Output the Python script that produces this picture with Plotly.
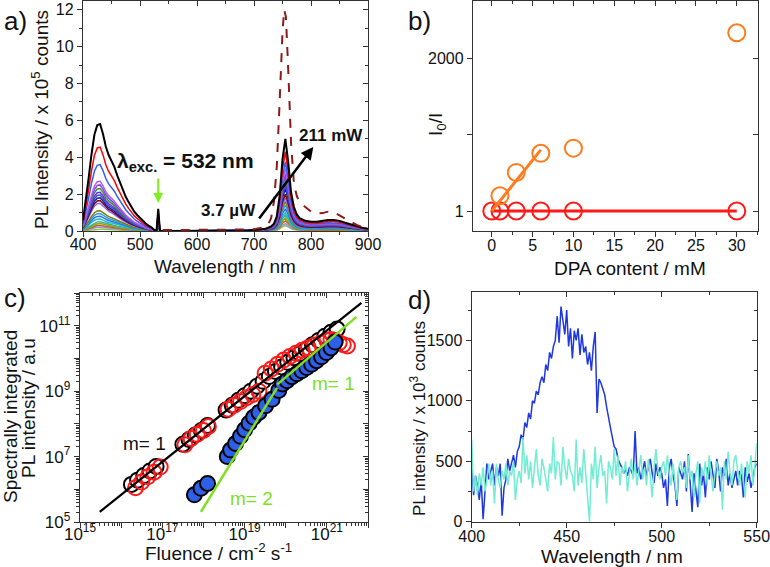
import plotly.graph_objects as go

W, H = 770, 567
FONT = "Liberation Sans, Arial, sans-serif"
AX = "#333333"

def px(x):
    return x / W

def py(y):
    return 1 - y / H

# ---------------- Panel a data ----------------
wl_a = [400, 405, 410, 415, 420, 425, 430, 435, 440, 445, 450, 455, 460, 465, 470, 475, 480, 485, 490, 495,
        500, 505, 510, 515, 520, 525,
        529, 532, 535,
        540, 560, 580, 600, 620, 640, 660, 680,
        690, 700, 710, 720, 725, 730, 735, 740, 745, 750, 755, 760, 765, 770, 775, 780, 790, 800, 810, 820,
        830, 840, 850, 860, 870, 880, 890, 900]
blue_band = [0.10, 0.28, 0.50, 0.72, 0.90, 0.99, 1.00, 0.91, 0.79, 0.71, 0.66, 0.60, 0.52, 0.45, 0.38, 0.32, 0.27, 0.22, 0.18, 0.15,
             0.12, 0.09, 0.07, 0.05, 0.035, 0.01,
             0, 0, 0,
             0, 0, 0, 0, 0, 0, 0, 0,
             0, 0, 0, 0, 0, 0, 0, 0, 0, 0, 0, 0, 0, 0, 0, 0, 0, 0, 0, 0,
             0, 0, 0, 0, 0, 0, 0, 0]
laser_line = [0] * 26 + [0, 1, 0] + [0] * 36
red_band = [0] * 26 + [0, 0, 0] + [0, 0, 0, 0, 0, 0, 0, 0.002] + \
           [0.005, 0.01, 0.015, 0.025, 0.035, 0.05, 0.08, 0.16, 0.38, 0.78, 1.00, 0.75, 0.42, 0.26, 0.18, 0.14, 0.11, 0.10,
            0.10, 0.11, 0.12, 0.12, 0.11, 0.09, 0.07, 0.05, 0.035, 0.025]

colors_a = ['#000000', '#ff0000', '#2f5cff', '#b35cff', '#8a3fe6', '#2f9a2f', '#6a2fd0', '#3a48e0', '#15208f',
            '#800000', '#8e6bff', '#7f7f00', '#2ea0e0', '#3070f0', '#1fc0c0', '#3fb09a', '#a0a000', '#c06020',
            '#9090ff', '#8cc63f']
blue_peak = [5.8, 4.55, 3.6, 2.7, 2.5, 2.3, 2.1, 1.95, 1.8, 1.65, 1.5, 1.1, 0.95, 0.8, 0.65, 0.5, 0.4, 0.3, 0.2, 0.1]
red_peak = [5.0, 4.3, 3.75, 3.4, 3.1, 2.9, 2.7, 2.5, 2.3, 2.0, 1.8, 1.6, 1.4, 1.2, 1.0, 0.85, 0.7, 0.55, 0.4, 0.3]
laser_peak = [1.2, 1.1, 1.0, 0.95, 0.9, 0.85, 0.8, 0.75, 0.7, 0.65, 0.6, 0.5, 0.45, 0.4, 0.35, 0.3, 0.25, 0.2, 0.15, 0.1]

ref_wl = [540, 600, 650, 690, 700, 710, 720, 725, 730, 735, 740, 745, 750, 753, 756, 760, 765, 770, 775, 780, 785,
          790, 800, 810, 820, 830, 840, 850, 860, 870, 880, 890, 900]
ref_int = [0.05, 0.05, 0.06, 0.08, 0.1, 0.14, 0.22, 0.35, 0.7, 1.6, 3.5, 7.0, 10.8, 12.0, 11.6, 8.8, 4.8, 2.6, 1.9,
           1.55, 1.4, 1.3, 1.05, 0.95, 0.97, 1.05, 1.02, 0.85, 0.65, 0.48, 0.33, 0.22, 0.15]

# ---------------- Panel b data ----------------
dpa_orange = [1, 3, 6, 10, 30]
ratio_orange = [2.14, 6.84, 17.8, 22.9, 7170]
dpa_red = [0, 1, 3, 6, 10, 30]
ratio_red = [1, 1, 1, 1, 1, 1]
fit_orange_x = [0, 6]
fit_orange_y = [1, 21]
fit_red_x = [0, 30]
fit_red_y = [1, 1]

# ---------------- Panel c data (log10 values) ----------------
blk_logF = [16.25, 16.40, 16.55, 16.70, 16.85, 17.50, 17.65, 17.80, 17.95, 18.10, 18.55, 18.70, 18.85, 19.00, 19.15,
            19.30, 19.45, 19.60, 19.75, 19.90, 20.05, 20.20, 20.35, 20.50, 20.65, 20.80, 20.95, 21.10, 21.25]
blk_logI = [6.15, 6.28, 6.42, 6.56, 6.70, 7.38, 7.52, 7.66, 7.80, 7.95, 8.42, 8.57, 8.72, 8.86, 9.00,
            9.15, 9.30, 9.45, 9.60, 9.74, 9.88, 10.02, 10.15, 10.28, 10.42, 10.55, 10.68, 10.80, 10.90]
red_logF = [16.35, 16.50, 16.65, 16.80, 16.95, 17.55, 17.70, 17.85, 18.00, 18.12, 18.60, 18.75, 18.90, 19.05, 19.20,
            19.35, 19.50, 19.65, 19.80, 19.95, 20.10, 20.25, 20.40, 20.55, 20.70, 20.85, 21.00, 21.10, 21.20, 21.30,
            21.40, 21.50]
red_logI = [6.05, 6.22, 6.38, 6.52, 6.68, 7.36, 7.55, 7.68, 7.80, 7.92, 8.45, 8.57, 8.68, 8.80, 8.90,
            9.00, 9.55, 9.68, 9.82, 9.95, 10.06, 10.16, 10.25, 10.33, 10.40, 10.47, 10.55, 10.58, 10.55, 10.48,
            10.42, 10.38]
blu_logF = [17.78, 17.94, 18.10, 18.58, 18.66, 18.78, 18.90, 19.00, 19.11, 19.22, 19.35, 19.51, 19.67, 19.83, 19.92,
            20.03, 20.15, 20.27, 20.39, 20.51, 20.63, 20.75, 20.87, 20.99, 21.10, 21.20]
blu_logI = [5.83, 6.03, 6.18, 7.00, 7.20, 7.40, 7.62, 7.82, 8.02, 8.20, 8.35, 8.55, 8.75, 9.02, 9.22,
            9.32, 9.44, 9.53, 9.62, 9.72, 9.82, 9.93, 10.05, 10.18, 10.32, 10.50]
fit1_logF = [15.48, 21.84]
fit1_logI = [5.31, 11.70]
fit2_logF = [17.94, 19.79]
fit2_logI = [5.31, 9.10]
fit3_logF = [19.79, 21.72]
fit3_logI = [9.20, 11.27]

# ---------------- Panel d data ----------------
wl_d = list(range(400, 551))
pl_sample = [480, 220, 380, 300, 180, 350, 20, 300, 480, 350,
             420, 480, 300, 450, 380, 480, 50, 280, 350, 520,
             420, 480, 550, 450, 580, 620, 720, 680, 820, 780,
             900, 850, 1000, 980, 1080, 1050, 1150, 1200, 1150, 1300,
             1250, 1400, 1350, 1450, 1500, 1700, 1480, 1780, 1650, 1550,
             1750, 1450, 1600, 1350, 1580, 1500, 1600, 1380, 1550, 1400,
             1450, 1300, 1400, 1250, 1450, 1570, 900, 1180, 1150, 1100,
             1050, 950, 850, 780, 700, 620, 600, 520, 480, 450,
             400, 430, 380, 450, 420, 380, 750, 400, 450, 350,
             420, 500, 380, 450, 520, 400, 320, 480, 380, 450,
             400, 280, 350, 130, 450, 520, 380, 300, 130, 450,
             400, 350, 500, 250, 560, 300, 80, 400, 250, 120,
             480, 300, 400, 200, 450, 350, 500, 380, 280, 520,
             420, 250, 450, 380, 520, 300, 400, 280, 350, 420,
             300, 420, 380, 200, 450, 330, 400, 280, 350, 450,
             480]
pl_blank = [680, 250, 380, 220, 400, 300, 450, 250, 350, 480,
            300, 420, 150, 480, 350, 280, 420, 350, 480, 300,
            420, 380, 500, 180, 350, 420, 320, 700, 400, 550,
            350, 500, 280, 450, 600, 380, 300, 520, 450, 350,
            250, 480, 400, 700, 350, 500, 480, 300, 620, 450,
            350, 520, 420, 380, 250, 680, 300, 450, 320, 600,
            400, 150, 0, 480, 350, 620, 280, 450, 550, 380,
            420, 150, 500, 450, 350, 600, 380, 550, 300, 450,
            400, 500, 250, 400, 520, 350, 480, 300, 420, 550,
            350, 450, 300, 520, 380, 200, 450, 600, 420, 350,
            450, 500, 380, 550, 400, 300, 480, 350, 180, 450,
            500, 400, 450, 280, 550, 350, 420, 200, 400, 500,
            150, 450, 380, 500, 300, 550, 420, 250, 400, 500,
            380, 450, 100, 500, 350, 580, 400, 300, 500, 550,
            420, 300, 480, 350, 200, 500, 400, 550, 300, 450,
            650]

fig = go.Figure()

# Panel a traces (lowest first)
for i in reversed(range(len(colors_a))):
    yv = [blue_peak[i] * b + red_peak[i] * r + laser_peak[i] * s
          for b, r, s in zip(blue_band, red_band, laser_line)]
    fig.add_trace(go.Scatter(x=wl_a, y=yv, mode='lines', xaxis='x', yaxis='y',
                             line=dict(color=colors_a[i], width=2.0 if i == 0 else 1.5),
                             showlegend=False, hoverinfo='skip'))
fig.add_trace(go.Scatter(x=ref_wl, y=ref_int, mode='lines', xaxis='x', yaxis='y',
                         line=dict(color='#8b1a1a', width=2, dash='dash'), showlegend=False))

# Panel b traces
fig.add_trace(go.Scatter(x=fit_red_x, y=fit_red_y, mode='lines', xaxis='x2', yaxis='y2',
                         line=dict(color='#ff1a1a', width=3), showlegend=False))
fig.add_trace(go.Scatter(x=dpa_red, y=ratio_red, mode='markers', xaxis='x2', yaxis='y2',
                         marker=dict(symbol='circle-open', size=17, color='#ff1a1a', line=dict(width=2)),
                         showlegend=False))
fig.add_trace(go.Scatter(x=dpa_orange, y=ratio_orange, mode='markers', xaxis='x2', yaxis='y2',
                         marker=dict(symbol='circle-open', size=17, color='#ff7b1c', line=dict(width=2)),
                         showlegend=False))
fig.add_trace(go.Scatter(x=fit_orange_x, y=fit_orange_y, mode='lines', xaxis='x2', yaxis='y2',
                         line=dict(color='#ff7b1c', width=3), showlegend=False))

# Panel c traces
def p10(v):
    return [10.0 ** a for a in v]

fig.add_trace(go.Scatter(x=p10(blk_logF), y=p10(blk_logI), mode='markers', xaxis='x3', yaxis='y3',
                         marker=dict(symbol='circle', size=15, color='white', line=dict(color='black', width=2)),
                         showlegend=False))
fig.add_trace(go.Scatter(x=p10(red_logF), y=p10(red_logI), mode='markers', xaxis='x3', yaxis='y3',
                         marker=dict(symbol='circle-open', size=15, color='#ff1a1a', line=dict(width=2)),
                         showlegend=False))
fig.add_trace(go.Scatter(x=p10(blu_logF), y=p10(blu_logI), mode='markers', xaxis='x3', yaxis='y3',
                         marker=dict(symbol='circle', size=15, color='#2e5fe8', line=dict(color='black', width=2)),
                         showlegend=False))
fig.add_trace(go.Scatter(x=p10(fit1_logF), y=p10(fit1_logI), mode='lines', xaxis='x3', yaxis='y3',
                         line=dict(color='black', width=2.2), showlegend=False))
fig.add_trace(go.Scatter(x=p10(fit2_logF), y=p10(fit2_logI), mode='lines', xaxis='x3', yaxis='y3',
                         line=dict(color='#7ee021', width=2.5), showlegend=False))
fig.add_trace(go.Scatter(x=p10(fit3_logF), y=p10(fit3_logI), mode='lines', xaxis='x3', yaxis='y3',
                         line=dict(color='#7ee021', width=2.5), showlegend=False))

# Panel d traces
fig.add_trace(go.Scatter(x=wl_d, y=pl_sample, mode='lines', xaxis='x4', yaxis='y4',
                         line=dict(color='#2038e0', width=1.5), showlegend=False))
fig.add_trace(go.Scatter(x=wl_d, y=pl_blank, mode='lines', xaxis='x4', yaxis='y4',
                         line=dict(color='#72ecd2', width=1.5), showlegend=False))

# dummy traces for mirror axes
for k in (5, 6, 7, 8):
    fig.add_trace(go.Scatter(x=[None], y=[None], xaxis='x%d' % k, yaxis='y%d' % k,
                             showlegend=False, hoverinfo='skip'))

TF = dict(family=FONT, size=16, color='#111111')


def main_axis(domain, anchor, rng, typ='linear', minor=None, **kw):
    d = dict(domain=domain, anchor=anchor, range=rng, type=typ, showline=True, linecolor=AX, linewidth=1.4,
             mirror=True, ticks='outside', ticklen=5, tickwidth=1.3, tickcolor=AX, showgrid=False,
             zeroline=False, tickfont=TF, automargin=False, ticklabeloverflow='allow')
    if minor is not None:
        m = dict(ticks='outside', ticklen=3, tickwidth=1, tickcolor=AX, showgrid=False)
        m.update(minor)
        d['minor'] = m
    d.update(kw)
    return d


def over_axis(overlay, anchor, side, rng, typ='linear', minor=None, **kw):
    d = dict(overlaying=overlay, anchor=anchor, side=side, range=rng, type=typ, showline=False,
             ticks='inside', ticklen=5, tickwidth=1.3, tickcolor=AX, showticklabels=False, showgrid=False,
             zeroline=False, automargin=False)
    if minor is not None:
        m = dict(ticks='inside', ticklen=3, tickwidth=1, tickcolor=AX, showgrid=False)
        m.update(minor)
        d['minor'] = m
    d.update(kw)
    return d


dom_a_x = [px(83), px(368)]
dom_a_y = [py(231), py(0.5)]
dom_b_x = [px(473), px(758)]
dom_b_y = [py(231), py(0.5)]
dom_c_x = [px(80), px(368)]
dom_c_y = [py(522), py(293)]
dom_d_x = [px(471.7), px(756.7)]
dom_d_y = [py(521.7), py(292)]

# log ticks
dec_x = [10.0 ** k for k in range(15, 23)]
lab_x = ['10<sup>%d</sup>' % k if k % 2 == 1 else ' ' for k in range(15, 23)]
dec_y = [10.0 ** k for k in range(5, 13)]
lab_y = ['10<sup>%d</sup>' % k if k % 2 == 1 else ' ' for k in range(5, 13)]
minor_x = [m * 10.0 ** k for k in range(15, 22) for m in range(2, 10)]
minor_y = [m * 10.0 ** k for k in range(5, 12) for m in range(2, 10)]

b_y_rng = [-0.4315, 4.552]
b_ticks = [1, 44.7, 2000]
b_text = ['1', ' ', '2000']

d_x_ticks = [400, 450, 500, 550]

layout = dict(
    template='none',
    width=W, height=H, margin=dict(l=0, r=0, t=0, b=0, pad=0, autoexpand=False),
    paper_bgcolor='white', plot_bgcolor='white', showlegend=False,
    font=dict(family=FONT, color='#111111'),
    xaxis=main_axis(dom_a_x, 'y', [400, 900], dtick=100, minor=dict(dtick=50), ticklabelstandoff=-6),
    yaxis=main_axis(dom_a_y, 'x', [0, 12.5], dtick=2, minor=dict(dtick=1)),
    xaxis2=main_axis(dom_b_x, 'y2', [-2.3, 32.6], dtick=5, minor=dict(dtick=2.5), ticklabelstandoff=-5),
    yaxis2=main_axis(dom_b_y, 'x2', b_y_rng, typ='log', tickmode='array', tickvals=b_ticks, ticktext=b_text),
    xaxis3=main_axis(dom_c_x, 'y3', [15, 22], typ='log', tickmode='array', tickvals=dec_x, ticktext=lab_x,
                     minor=dict(tickmode='array', tickvals=minor_x), ticklabelstandoff=-9,
                     tickfont=dict(family=FONT, size=17, color='#111')),
    yaxis3=main_axis(dom_c_y, 'x3', [5, 12], typ='log', tickmode='array', tickvals=dec_y, ticktext=lab_y,
                     minor=dict(tickmode='array', tickvals=minor_y), tickfont=dict(family=FONT, size=17, color='#111')),
    xaxis4=main_axis(dom_d_x, 'y4', [400, 550.01], tickmode='array', tickvals=d_x_ticks,
                     ticktext=[str(v) for v in d_x_ticks],
                     minor=dict(dtick=25, tick0=400), ticklabelstandoff=-5),
    yaxis4=main_axis(dom_d_y, 'x4', [0, 1900], dtick=500, minor=dict(dtick=250)),
    xaxis5=over_axis('x', 'y5', 'top', [400, 900], dtick=100, minor=dict(dtick=50)),
    yaxis5=over_axis('y', 'x5', 'right', [0, 12.5], dtick=2, minor=dict(dtick=1)),
    xaxis6=over_axis('x2', 'y6', 'top', [-2.3, 32.6], dtick=5, minor=dict(dtick=2.5)),
    yaxis6=over_axis('y2', 'x6', 'right', b_y_rng, typ='log', tickmode='array', tickvals=b_ticks),
    xaxis7=over_axis('x3', 'y7', 'top', [15, 22], typ='log', tickmode='array', tickvals=dec_x,
                     minor=dict(tickmode='array', tickvals=minor_x)),
    yaxis7=over_axis('y3', 'x7', 'right', [5, 12], typ='log', tickmode='array', tickvals=dec_y,
                     minor=dict(tickmode='array', tickvals=minor_y)),
    xaxis8=over_axis('x4', 'y8', 'top', [400, 550.01], dtick=50, minor=dict(dtick=25)),
    yaxis8=over_axis('y4', 'x8', 'right', [0, 1900], dtick=500, minor=dict(dtick=250)),
)
fig.update_layout(**layout)

ann = []


def txt(text, x, y, size=19, angle=0, xanchor='center', yanchor='middle', color='#111111'):
    ann.append(dict(text=text, x=px(x), y=py(y), xref='paper', yref='paper', showarrow=False,
                    textangle=angle, xanchor=xanchor, yanchor=yanchor,
                    font=dict(family=FONT, size=size, color=color)))


# panel labels
txt('a)', 2, 21, size=26, xanchor='left')
txt('b)', 406, 21, size=26, xanchor='left')
txt('c)', 2, 298, size=26, xanchor='left')
txt('d)', 406, 300, size=26, xanchor='left')

# axis titles
txt('Wavelength / nm', 225, 266)
txt('PL Intensity / x 10<sup>5</sup> counts', 40, 120, angle=-90)
txt('DPA content / mM', 630, 269)
txt('I<sub>0</sub>/I', 437, 125, angle=-90)
txt('Fluence / cm<sup>-2</sup> s<sup>-1</sup>', 218, 552)
txt('Spectrally integrated', 10, 417, angle=-90)
txt('PL intensity / a.u', 28, 408, angle=-90)
txt('Wavelength / nm', 612, 556)
txt('PL intensity / x 10<sup>3</sup> counts', 418, 418, size=17, angle=-90)

# panel a annotations
txt('<b>λ<sub>exc.</sub> = 532 nm</b>', 115, 162, size=21, xanchor='left')
txt('<b>211 mW</b>', 297, 135, size=17, xanchor='left')
txt('<b>3.7 µW</b>', 199, 210, size=17, xanchor='left')

# panel c annotations
txt('m= 1', 121, 443, size=19, xanchor='left')
txt('m= 2', 228, 498, size=19, xanchor='left', color='#7ee021')
txt('m= 1', 310, 383, size=19, xanchor='left', color='#7ee021')

# arrows in panel a
ann.append(dict(x=804, y=4.56, ax=707, ay=0.6, xref='x', yref='y', axref='x', ayref='y', text='',
                showarrow=True, arrowhead=2, arrowsize=1, arrowwidth=2.5, arrowcolor='black'))
ann.append(dict(x=532, y=1.52, ax=532, ay=2.93, xref='x', yref='y', axref='x', ayref='y', text='',
                showarrow=True, arrowhead=2, arrowsize=1, arrowwidth=2, arrowcolor='#7fef1f'))

fig.update_layout(annotations=ann)
fig.write_html("out.html")
